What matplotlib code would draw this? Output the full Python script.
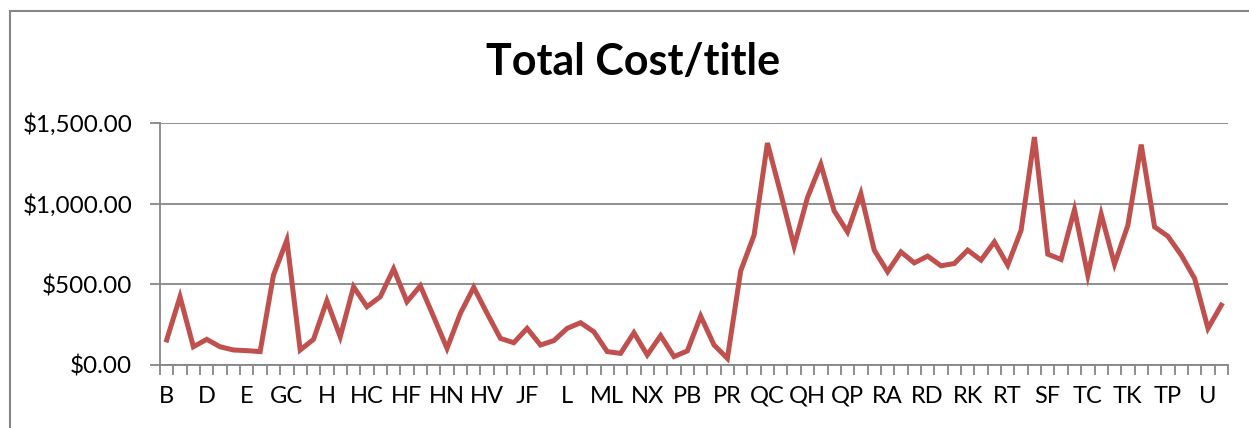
import numpy as np
import matplotlib
matplotlib.use('Agg')
import matplotlib.pyplot as plt
from matplotlib.patches import Rectangle
from matplotlib.ticker import StrMethodFormatter

# labelled categories (every third category carries a label)
tick_labels = ['B', 'D', 'E', 'GC', 'H', 'HC', 'HF', 'HN', 'HV', 'JF', 'L', 'ML', 'NX', 'PB',
               'PR', 'QC', 'QH', 'QP', 'RA', 'RD', 'RK', 'RT', 'SF', 'TC', 'TK', 'TP', 'U']

# total cost per title
cost = [155, 423, 113, 159, 113, 93, 89, 83, 557, 774,
        93, 159, 398, 175, 485, 361, 423, 596, 392, 491,
        299, 103, 320, 481, 320, 165, 138, 227, 124, 151,
        227, 262, 206, 83, 72, 200, 62, 182, 52, 87,
        303, 124, 41, 584, 805, 1376, 1062, 736, 1038, 1244,
        955, 825, 1062, 712, 578, 701, 633, 675, 615, 629,
        712, 650, 763, 619, 835, 1413, 687, 654, 963, 557,
        935, 625, 866, 1366, 856, 798, 681, 536, 227, 371]

grey = '#868686'
W, H = 1249, 428

fig = plt.figure(figsize=(W / 100, H / 100), dpi=100)
plt.rcParams['font.family'] = ['Lato', 'DejaVu Sans']

# chart frame like the spreadsheet chart area
fig.patches.append(Rectangle((10 / W, -0.1), 1.2, 1.1 - 10.5 / H, transform=fig.transFigure,
                             fill=False, edgecolor=grey, linewidth=1.5))

ax = fig.add_axes([160 / W, (H - 365) / H, 1068 / W, 242 / H])
n = len(cost)
x = np.arange(n)
ax.plot(x, cost, color='#C0504D', linewidth=3.6, solid_joinstyle='miter', zorder=3)

ax.set_xlim(-0.5, n - 0.5)
ax.set_ylim(0, 1500)
ax.set_yticks([0, 500, 1000, 1500])
ax.yaxis.set_major_formatter(StrMethodFormatter('${x:,.2f}'))
ax.grid(axis='y', color=grey, linewidth=1.3)
ax.set_axisbelow(True)

# tick marks at category boundaries, labels centred on every third category
ax.set_xticks(np.arange(n + 1) - 0.5)
ax.set_xticklabels([])
ax.set_xticks(x[::3], minor=True)
ax.set_xticklabels(tick_labels, minor=True)
ax.tick_params(axis='x', which='major', length=7, width=1.3, color=grey, direction='out')
ax.tick_params(axis='x', which='minor', length=0, pad=15, labelsize=17)
ax.tick_params(axis='y', length=7, width=1.3, color=grey, direction='out', pad=13, labelsize=17.5)

for side in ['top', 'right']:
    ax.spines[side].set_visible(False)
for side in ['left', 'bottom']:
    ax.spines[side].set_color(grey)
    ax.spines[side].set_linewidth(1.3)

fig.text(633 / W, 1 - 62 / H, 'Total Cost/title', ha='center', va='center',
         fontsize=31, fontweight='bold')

fig.savefig('out.png', dpi=100)
